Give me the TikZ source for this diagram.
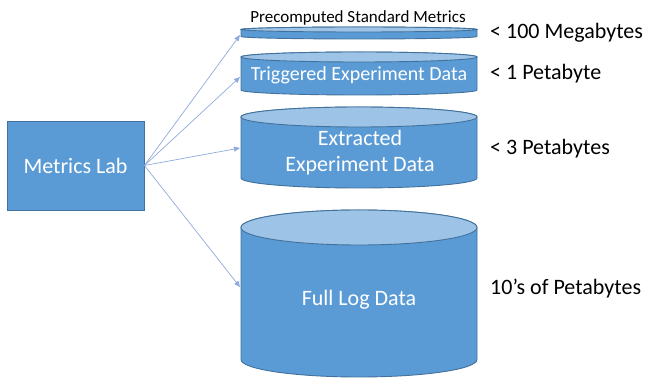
\documentclass[tikz,border=0pt]{standalone}
\usepackage{fontspec}
\setmainfont{Carlito}
\usetikzlibrary{arrows.meta}
\definecolor{cylblue}{RGB}{91,155,213}
\definecolor{cyllight}{RGB}{157,195,230}
\definecolor{cyledge}{RGB}{65,113,156}
\definecolor{linkblue}{RGB}{143,170,220}
\tikzset{
  cylbody/.style={fill=cylblue, draw=cyledge, line width=0.9pt},
  cyltop/.style={fill=cyllight, draw=cyledge, line width=0.9pt},
  celltext/.style={text=white, font=\fontsize{22}{26}\selectfont, align=center},
  sizetext/.style={anchor=base west, inner sep=0pt, font=\fontsize{22}{26}\selectfont},
  link/.style={draw=linkblue, line width=0.7pt, -{Triangle[length=6pt,width=5pt]}}
}
\begin{document}
\begin{tikzpicture}[x=1pt,y=1pt]
  \useasboundingbox (0,0) rectangle (649,-379);
  % the four stores
  \foreach \t/\b/\r in {27/39/2.5, 52/95/5, 107/188/10, 210/377/17.5} {
    \draw[cylbody] (241,-\t-\r) -- (241,-\b+\r)
      arc[start angle=180, end angle=360, x radius=118pt, y radius=\r pt]
      -- (477,-\t-\r)
      arc[start angle=0, end angle=180, x radius=118pt, y radius=\r pt] -- cycle;
    \draw[cyltop] (359,-\t-\r) ellipse[x radius=118pt, y radius=\r pt];
  }
  \node[anchor=base, font=\fontsize{17}{20}\selectfont] (prelbl) at (358,-23) {Precomputed Standard Metrics};
  \node[celltext, font=\fontsize{20}{24}\selectfont] (trig) at (359,-75) {Triggered Experiment Data};
  \node[celltext] (extr) at (360,-153) {Extracted\\Experiment Data};
  \node[celltext] (full) at (359,-300) {Full Log Data};
  % sizes
  \node[sizetext] (s1) at (490,-39) {< 100 Megabytes};
  \node[sizetext] (s2) at (490,-80) {< 1 Petabyte};
  \node[sizetext] (s3) at (490,-155) {< 3 Petabytes};
  \node[sizetext] (s4) at (490,-295) {10’s of Petabytes};
  % lab and links
  \node[fill=cylblue, draw=cyledge, line width=0.9pt, minimum width=137pt, minimum height=89pt,
        text=white, font=\fontsize{22}{26}\selectfont] (lab) at (75.5,-165.5) {Metrics Lab};
  \coordinate (a1) at (240,-35);
  \coordinate (a2) at (240,-77);
  \coordinate (a3) at (240,-148);
  \coordinate (a4) at (240,-287);
  \draw[link] (lab.east) -- (a1);
  \draw[link] (lab.east) -- (a2);
  \draw[link] (lab.east) -- (a3);
  \draw[link] (lab.east) -- (a4);
\end{tikzpicture}
\end{document}
